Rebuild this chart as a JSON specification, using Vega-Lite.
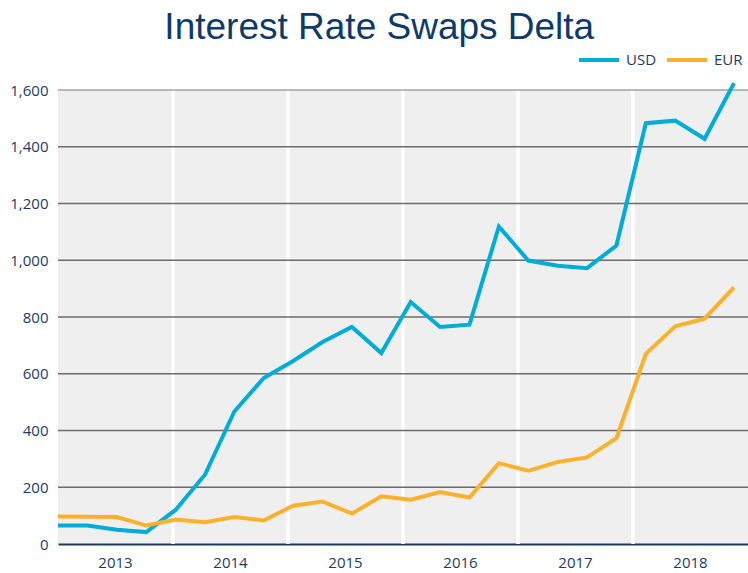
{
  "$schema": "https://vega.github.io/schema/vega-lite/v6.json",
  "autosize": {"type": "none"},
  "width": 690,
  "height": 454,
  "padding": {"top": 90, "left": 58, "right": 0, "bottom": 29},
  "background": "white",
  "config": {
    "view": {"fill": "#efefef", "stroke": null},
    "font": "Open Sans"
  },
  "title": {
    "text": "Interest Rate Swaps Delta",
    "font": "Liberation Sans",
    "fontSize": 37,
    "fontWeight": "normal",
    "color": "#0d3a6b",
    "anchor": "middle",
    "frame": "bounds",
    "offset": -9
  },
  "datasets": {
    "series": [
      {"period": "2013 Q1", "currency": "USD", "value": 65},
      {"period": "2013 Q2", "currency": "USD", "value": 65},
      {"period": "2013 Q3", "currency": "USD", "value": 50},
      {"period": "2013 Q4", "currency": "USD", "value": 42},
      {"period": "2014 Q1", "currency": "USD", "value": 120},
      {"period": "2014 Q2", "currency": "USD", "value": 244},
      {"period": "2014 Q3", "currency": "USD", "value": 467},
      {"period": "2014 Q4", "currency": "USD", "value": 585},
      {"period": "2015 Q1", "currency": "USD", "value": 645},
      {"period": "2015 Q2", "currency": "USD", "value": 712},
      {"period": "2015 Q3", "currency": "USD", "value": 765},
      {"period": "2015 Q4", "currency": "USD", "value": 673},
      {"period": "2016 Q1", "currency": "USD", "value": 853},
      {"period": "2016 Q2", "currency": "USD", "value": 765},
      {"period": "2016 Q3", "currency": "USD", "value": 773},
      {"period": "2016 Q4", "currency": "USD", "value": 1119},
      {"period": "2017 Q1", "currency": "USD", "value": 999},
      {"period": "2017 Q2", "currency": "USD", "value": 981},
      {"period": "2017 Q3", "currency": "USD", "value": 972},
      {"period": "2017 Q4", "currency": "USD", "value": 1052},
      {"period": "2018 Q1", "currency": "USD", "value": 1483},
      {"period": "2018 Q2", "currency": "USD", "value": 1492},
      {"period": "2018 Q3", "currency": "USD", "value": 1428},
      {"period": "2018 Q4", "currency": "USD", "value": 1624},
      {"period": "2013 Q1", "currency": "EUR", "value": 97},
      {"period": "2013 Q2", "currency": "EUR", "value": 96},
      {"period": "2013 Q3", "currency": "EUR", "value": 95},
      {"period": "2013 Q4", "currency": "EUR", "value": 65},
      {"period": "2014 Q1", "currency": "EUR", "value": 86},
      {"period": "2014 Q2", "currency": "EUR", "value": 77},
      {"period": "2014 Q3", "currency": "EUR", "value": 95},
      {"period": "2014 Q4", "currency": "EUR", "value": 83},
      {"period": "2015 Q1", "currency": "EUR", "value": 135},
      {"period": "2015 Q2", "currency": "EUR", "value": 150},
      {"period": "2015 Q3", "currency": "EUR", "value": 107},
      {"period": "2015 Q4", "currency": "EUR", "value": 168},
      {"period": "2016 Q1", "currency": "EUR", "value": 156},
      {"period": "2016 Q2", "currency": "EUR", "value": 183},
      {"period": "2016 Q3", "currency": "EUR", "value": 164},
      {"period": "2016 Q4", "currency": "EUR", "value": 285},
      {"period": "2017 Q1", "currency": "EUR", "value": 258},
      {"period": "2017 Q2", "currency": "EUR", "value": 289},
      {"period": "2017 Q3", "currency": "EUR", "value": 305},
      {"period": "2017 Q4", "currency": "EUR", "value": 373},
      {"period": "2018 Q1", "currency": "EUR", "value": 670},
      {"period": "2018 Q2", "currency": "EUR", "value": 767},
      {"period": "2018 Q3", "currency": "EUR", "value": 794},
      {"period": "2018 Q4", "currency": "EUR", "value": 904}
    ],
    "yearStarts": [
      {"year": "2014"},
      {"year": "2015"},
      {"year": "2016"},
      {"year": "2017"},
      {"year": "2018"}
    ],
    "gridValues": [
      {"level": 200},
      {"level": 400},
      {"level": 600},
      {"level": 800},
      {"level": 1000},
      {"level": 1200},
      {"level": 1400},
      {"level": 1600}
    ]
  },
  "layer": [
    {
      "data": {"name": "yearStarts"},
      "mark": {"type": "rule", "color": "white", "strokeWidth": 3.5},
      "encoding": {
        "x": {
          "field": "year",
          "type": "ordinal",
          "bandPosition": 0,
          "scale": {
            "type": "band",
            "domain": ["2013", "2014", "2015", "2016", "2017", "2018"],
            "paddingInner": 0,
            "paddingOuter": 0
          },
          "axis": {
            "title": null,
            "labelAngle": 0,
            "ticks": false,
            "grid": false,
            "domainColor": "#1c3a63",
            "domainWidth": 2,
            "labelColor": "#1c3a63",
            "labelFontSize": 15,
            "labelFont": "Open Sans",
            "labelPadding": 11
          }
        }
      }
    },
    {
      "data": {"name": "gridValues"},
      "mark": {"type": "rule", "strokeWidth": 1.5},
      "encoding": {
        "y": {"field": "level", "type": "quantitative"},
        "color": {
          "condition": {"test": "datum.level == 1600", "value": "#a3a3a3"},
          "value": "#6b6b6b"
        }
      }
    },
    {
      "data": {"name": "series"},
      "mark": {"type": "line", "strokeWidth": 4, "strokeJoin": "miter", "strokeCap": "butt"},
      "encoding": {
        "x": {
          "field": "period",
          "type": "ordinal",
          "scale": {"type": "point", "range": [0, 676], "padding": 0},
          "axis": null
        },
        "y": {
          "field": "value",
          "type": "quantitative",
          "scale": {"domain": [0, 1600], "nice": false},
          "axis": {
            "title": null,
            "values": [0, 200, 400, 600, 800, 1000, 1200, 1400, 1600],
            "format": ",d",
            "grid": false,
            "ticks": false,
            "domain": false,
            "labelColor": "#1c3a63",
            "labelFontSize": 15,
            "labelFont": "Open Sans",
            "labelPadding": 10
          }
        },
        "color": {
          "field": "currency",
          "type": "nominal",
          "sort": ["USD", "EUR"],
          "scale": {"domain": ["USD", "EUR"], "range": ["#00acd8", "#fbb12b"]},
          "legend": {
            "title": null,
            "orient": "none",
            "direction": "horizontal",
            "legendX": 519,
            "legendY": -52,
            "symbolType": "stroke",
            "symbolSize": 1600,
            "symbolStrokeWidth": 4,
            "labelFontSize": 15,
            "labelFont": "Open Sans",
            "labelColor": "#1c3a63",
            "labelOffset": 5,
            "columnPadding": 2
          }
        }
      }
    }
  ],
  "resolve": {"scale": {"x": "independent"}}
}
